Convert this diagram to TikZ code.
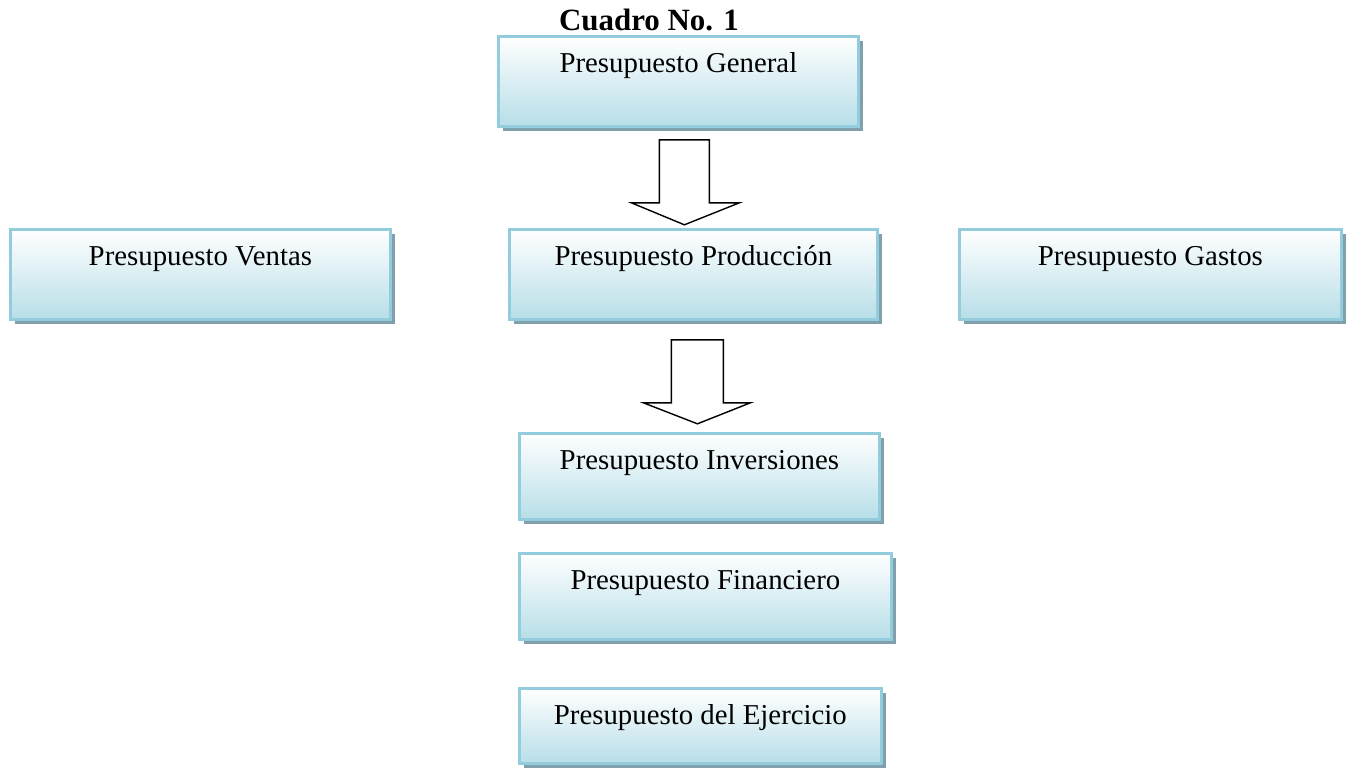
\documentclass[tikz,border=0pt]{standalone}
\usepackage{fontspec}
\setmainfont{Liberation Serif}
\usetikzlibrary{shadows,calc}

\definecolor{boxline}{RGB}{147,205,221}
\definecolor{boxfill}{RGB}{183,222,232}
\definecolor{boxshadow}{RGB}{128,160,172}

\tikzset{
  presbox/.style={rectangle, anchor=north west, draw=boxline, line width=1.6pt,
    inner xsep=0pt, inner ysep=0pt,
    top color=white, middle color=boxfill!50!white, bottom color=boxfill,
    drop shadow={shadow xshift=0.09cm, shadow yshift=-0.09cm, fill=boxshadow, opacity=1},
    text height=0.72cm, text depth=1.08cm, font=\fontsize{16.4}{19}\selectfont},
  blockarrow/.style={draw=black, fill=white, line width=0.8pt, line join=miter}
}

\begin{document}
\begin{tikzpicture}
    \useasboundingbox (0,0) rectangle (27.24,-15.38);
    \node[anchor=base, font=\fontsize{17.6}{20}\selectfont\bfseries] (title) at (12.98,-0.60) {Cuadro No. 1};
    % top level
    \node[presbox, minimum width=7.2cm] (gen) at (9.94,-0.70) {Presupuesto General};
    % middle row
    \node[presbox, minimum width=7.6cm] (ventas) at (0.18,-4.56) {Presupuesto Ventas};
    \node[presbox, minimum width=7.36cm] (prod) at (10.16,-4.56) {Presupuesto Producción};
    \node[presbox, minimum width=7.64cm] (gastos) at (19.16,-4.56) {Presupuesto Gastos};
    % lower column
    \node[presbox, minimum width=7.2cm, text depth=1.0cm] (inv) at (10.36,-8.64) {Presupuesto Inversiones};
    \node[presbox, minimum width=7.44cm, text depth=1.0cm] (fin) at (10.36,-11.04) {Presupuesto Financiero};
    \node[presbox, minimum width=7.24cm, text depth=0.78cm] (ejer) at (10.36,-13.74) {Presupuesto del Ejercicio};
    % block arrows (gen -> prod, prod -> inv)
    \draw[blockarrow] ($(gen.south)+(-0.38,-0.24)$) -- ++(0,-1.26) -- ++(-0.56,0)
        -- ++(1.06,-0.44) -- ++(1.1,0.44) -- ++(-0.6,0) -- ++(0,1.26) -- cycle;
    \draw[blockarrow] ($(prod.south)+(-0.44,-0.38)$) -- ++(0,-1.26) -- ++(-0.56,0)
        -- ++(1.08,-0.42) -- ++(1.06,0.42) -- ++(-0.54,0) -- ++(0,1.26) -- cycle;
\end{tikzpicture}
\end{document}
